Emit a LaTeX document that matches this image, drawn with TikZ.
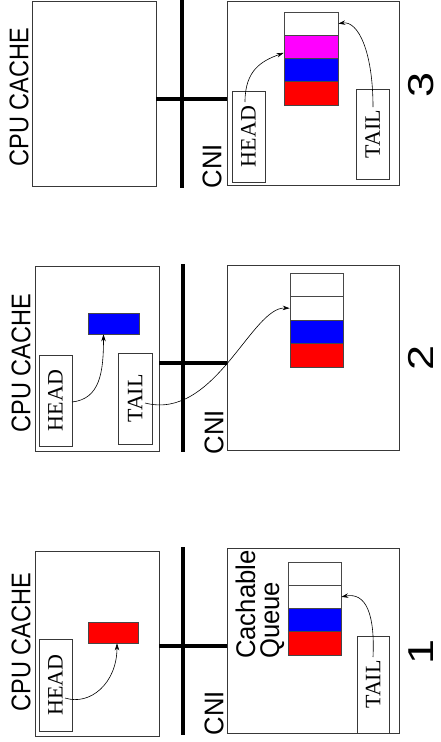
\documentclass[tikz,border=0pt]{standalone}
\usepackage{fontspec}
\setmainfont{Liberation Serif}
\newfontfamily\labelfont{Liberation Sans}
\usetikzlibrary{arrows.meta,calc}

\definecolor{qmagenta}{RGB}{255,0,255}

\tikzset{
  frame/.style 2 args={draw=black!78, line width=0.9pt, inner sep=0pt,
    minimum width=#1 pt, minimum height=#2 pt},
  ptrbox/.style 2 args={frame={#1}{#2},
    font=\fontsize{22}{25}\selectfont},
  cell/.style={draw=black!72, line width=0.7pt, inner sep=0pt,
    minimum width=53pt, minimum height=23.3pt},
  bus/.style={line width=3.2pt},
  link/.style={-{Stealth[length=7pt,width=4.5pt]}, line width=0.6pt},
  sans/.style={font=\labelfont\fontsize{27}{30}\selectfont, inner sep=0pt},
  cachelabel/.style={sans, rotate=90, xscale=0.87},
  cnilabel/.style={sans, rotate=90, xscale=0.95},
  queuelabel/.style={sans, rotate=90, xscale=0.95, anchor=base west},
  stepno/.style={font=\labelfont\fontsize{36}{40}\selectfont, inner sep=0pt,
    rotate=90, xscale=1.25},
}

\begin{document}
\begin{tikzpicture}[x=1pt, y=-1pt]
\useasboundingbox[fill=white] (0,0) rectangle (440,742);

% ---------------- stage 1 ----------------
\node[frame={124}{185}] (cpu1) at (97,643.5) {};
\node[cachelabel] (cc1) at (21,642) {CPU CACHE};
\node[ptrbox={33}{92}] (h1) at (55.5,685) {\rotatebox{90}{HEAD}};
\node[cell, fill=red, minimum width=50pt, minimum height=21pt] (r1) at (113,632.5) {};
\node[frame={172}{185}] (cni1) at (313,640.5) {};
\node[cnilabel] (cn1) at (214,713) {CNI};
\node[queuelabel] (cq1) at (255,659) {Cachable};
\node[queuelabel] (cq2) at (279,659) {Queue};
\node[cell] (q1a) at (314.5,573.6) {};
\node[cell] (q1b) at (314.5,596.9) {};
\node[cell, fill=blue] (q1c) at (314.5,620.1) {};
\node[cell, fill=red] (q1d) at (314.5,643.4) {};
\node[ptrbox={32}{97}] (t1) at (373,684.5) {\rotatebox{90}{TAIL}};
\node[stepno] (n1) at (421,652) {1};

\coordinate (j1) at (183,646);
\draw[bus] (183,547) -- (183,735);
\draw[bus] (j1 -| cpu1.east) -- (j1 -| cni1.west);

\coordinate (s1h) at (65,698);
\coordinate (s1t) at (373,657);
\draw[link] (s1h) .. controls +(25,8) and +(0,40) .. ($(r1.south)+(4,0)$);
\draw[link] (s1t) .. controls +(2,-42) and +(25,-5) .. (q1b.east);

% ---------------- stage 2 ----------------
\node[frame={124}{185}] (cpu2) at (97,358.5) {};
\node[cachelabel] (cc2) at (21,363) {CPU CACHE};
\node[ptrbox={33}{91}] (h2) at (55.5,400.5) {\rotatebox{90}{HEAD}};
\node[cell, fill=blue, minimum width=51pt, minimum height=21pt] (b2) at (113.5,323.5) {};
\node[ptrbox={34}{91}] (t2) at (135,398.5) {\rotatebox{90}{TAIL}};
\node[frame={172}{185}] (cni2) at (313,357.5) {};
\node[cnilabel] (cn2) at (214,432) {CNI};
\node[cell] (q2a) at (316.5,284.75) {};
\node[cell] (q2b) at (316.5,308.25) {};
\node[cell, fill=blue] (q2c) at (316.5,331.75) {};
\node[cell, fill=red] (q2d) at (316.5,355.25) {};
\node[stepno] (n2) at (421,358) {2};

\coordinate (j2) at (183,363);
\draw[bus] (183,264) -- (183,452);
\draw[bus] (j2 -| cpu2.east) -- (j2 -| cni2.west);

\coordinate (s2h) at (72,402);
\coordinate (s2t) at (145,403);
\draw[link] (s2h) .. controls +(28,-3) and +(0,38) .. ($(b2.south)+(-10,0)$);
\draw[link] (s2t) .. controls +(70,18) and +(-38,-2) .. (q2b.west);

% ---------------- stage 3 ----------------
\node[frame={124}{185}] (cpu3) at (94,93.5) {};
\node[cachelabel] (cc3) at (19,97) {CPU CACHE};
\node[frame={172}{184}] (cni3) at (313,93) {};
\node[cnilabel] (cn3) at (212,166) {CNI};
\node[ptrbox={33}{91}] (h3) at (248.5,136.5) {\rotatebox{90}{HEAD}};
\node[ptrbox={33}{90}] (t3) at (372.5,134) {\rotatebox{90}{TAIL}};
\node[cell, minimum width=54pt] (q3a) at (311,23.6) {};
\node[cell, minimum width=54pt, fill=qmagenta] (q3b) at (311,46.9) {};
\node[cell, minimum width=54pt, fill=blue] (q3c) at (311,70.1) {};
\node[cell, minimum width=54pt, fill=red] (q3d) at (311,93.4) {};
\node[stepno] (n3) at (421,85) {3};

\coordinate (j3) at (182,99);
\draw[bus] (182,0) -- (182,188);
\draw[bus] (j3 -| cpu3.east) -- (j3 -| cni3.west);

\coordinate (s3h) at (245,102);
\coordinate (s3t) at (373,107);
\draw[link] (s3h) .. controls +(0,-32) and +(-22,8) .. ($(q3b.west)+(0,6)$);
\draw[link] (s3t) .. controls +(0,-55) and +(20,-3) .. (q3a.east);
\end{tikzpicture}
\end{document}
